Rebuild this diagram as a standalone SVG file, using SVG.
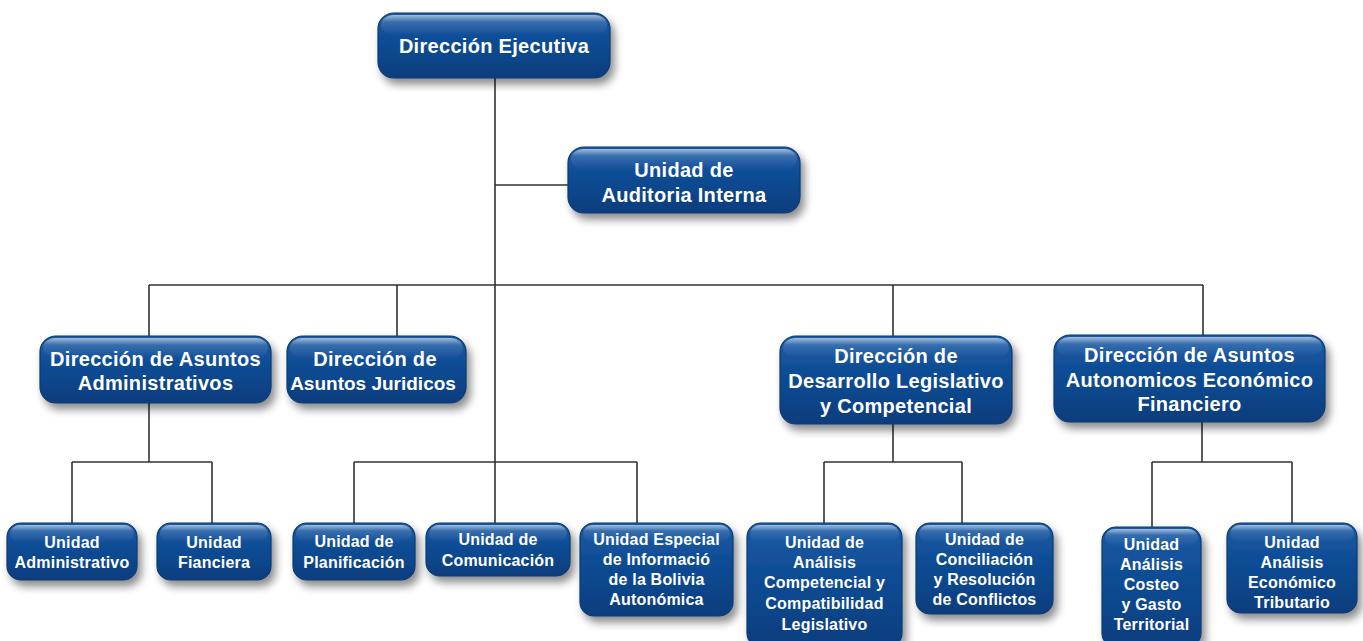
<svg xmlns="http://www.w3.org/2000/svg" width="1363" height="641" viewBox="0 0 1363 641">
<defs>
<linearGradient id="body" x1="0" y1="0" x2="0" y2="1">
<stop offset="0" stop-color="#1a5aa5"/>
<stop offset="0.5" stop-color="#0d4a92"/>
<stop offset="1" stop-color="#093d7d"/>
</linearGradient>
<linearGradient id="gloss" x1="0" y1="0" x2="0" y2="1">
<stop offset="0" stop-color="#ffffff" stop-opacity="0.6"/>
<stop offset="0.35" stop-color="#ffffff" stop-opacity="0.14"/>
<stop offset="1" stop-color="#ffffff" stop-opacity="0"/>
</linearGradient>
<filter id="sh" x="-20%" y="-20%" width="150%" height="160%">
<feDropShadow dx="4" dy="6" stdDeviation="4.5" flood-color="#000" flood-opacity="0.45"/>
</filter>
<style>
.box{fill:url(#body);stroke:#0a3a73;stroke-width:1.2;filter:url(#sh)}
.gl{fill:url(#gloss);stroke:none}
.t{font-family:"Liberation Sans",Arial,sans-serif;font-weight:bold;fill:#fff;text-anchor:middle}
.big{font-size:20px;letter-spacing:0.3px}
.sm{font-size:16px;letter-spacing:0.2px}
.c{fill:none;stroke:#333;stroke-width:1.6}
</style>
</defs>
<rect width="1363" height="641" fill="#fff"/>
<g id="connectors">
<path class="c" d="M495 78V462M495 185H568M149 285H1203M149 285V336M397 285V336M893 285V336M1203 285V335"/>
<path class="c" d="M149 403V462M72 462H212M72 462V523M212 462V523"/>
<path class="c" d="M354 462H637M354 462V523M495 462V523M637 462V523"/>
<path class="c" d="M893 424V462M824 462H962M824 462V523M962 462V523"/>
<path class="c" d="M1202 422V462M1152 462H1292M1152 462V527M1292 462V523"/>
</g>
<g id="n-ejecutiva">
<rect class="box" x="378" y="13" width="232" height="65" rx="16"/>
<rect class="gl" x="381" y="15" width="226" height="20" rx="12"/>
<text class="t big" x="494" y="53">Dirección Ejecutiva</text>
</g>
<g id="n-auditoria">
<rect class="box" x="568" y="147" width="232" height="66" rx="16"/>
<rect class="gl" x="571" y="149" width="226" height="20" rx="12"/>
<text class="t big" x="684" y="177">Unidad de</text>
<text class="t big" x="684" y="202">Auditoria Interna</text>
</g>
<g id="n-administrativos">
<rect class="box" x="40" y="336" width="231" height="67" rx="16"/>
<rect class="gl" x="43" y="338" width="225" height="20" rx="12"/>
<text class="t big" x="155.5" y="366">Dirección de Asuntos</text>
<text class="t big" x="155.5" y="390">Administrativos</text>
</g>
<g id="n-juridicos">
<rect class="box" x="287" y="336" width="179" height="67" rx="16"/>
<rect class="gl" x="290" y="338" width="173" height="20" rx="12"/>
<text class="t big" x="375" y="366">Dirección de</text>
<text class="t big" x="373" y="390" style="font-size:19px;letter-spacing:0">Asuntos Juridicos</text>
</g>
<g id="n-desarrollo">
<rect class="box" x="780" y="336" width="232" height="88" rx="16"/>
<rect class="gl" x="783" y="338" width="226" height="20" rx="12"/>
<text class="t big" x="896" y="363">Dirección de</text>
<text class="t big" x="896" y="388">Desarrollo Legislativo</text>
<text class="t big" x="896" y="413">y Competencial</text>
</g>
<g id="n-autonomicos">
<rect class="box" x="1054" y="335" width="271" height="87" rx="16"/>
<rect class="gl" x="1057" y="337" width="265" height="20" rx="12"/>
<text class="t big" x="1189.5" y="362">Dirección de Asuntos</text>
<text class="t big" x="1189.5" y="387">Autonomicos Económico</text>
<text class="t big" x="1189.5" y="411">Financiero</text>
</g>
<g id="n-u-administrativo">
<rect class="box" x="7" y="523" width="130" height="57" rx="14"/>
<rect class="gl" x="10" y="525" width="124" height="17" rx="10"/>
<text class="t sm" x="72" y="548">Unidad</text>
<text class="t sm" x="72" y="568">Administrativo</text>
</g>
<g id="n-u-fianciera">
<rect class="box" x="157" y="523" width="114" height="57" rx="14"/>
<rect class="gl" x="160" y="525" width="108" height="17" rx="10"/>
<text class="t sm" x="214" y="548">Unidad</text>
<text class="t sm" x="214" y="568">Fianciera</text>
</g>
<g id="n-u-planificacion">
<rect class="box" x="293" y="523" width="122" height="57" rx="14"/>
<rect class="gl" x="296" y="525" width="116" height="17" rx="10"/>
<text class="t sm" x="354" y="547">Unidad de</text>
<text class="t sm" x="354" y="568">Planificación</text>
</g>
<g id="n-u-comunicacion">
<rect class="box" x="426" y="523" width="144" height="53" rx="14"/>
<rect class="gl" x="429" y="525" width="138" height="17" rx="10"/>
<text class="t sm" x="498" y="545">Unidad de</text>
<text class="t sm" x="498" y="566">Comunicación</text>
</g>
<g id="n-u-especial">
<rect class="box" x="580" y="523" width="153" height="93" rx="14"/>
<rect class="gl" x="583" y="525" width="147" height="17" rx="10"/>
<text class="t sm" x="656.5" y="545">Unidad Especial</text>
<text class="t sm" x="656.5" y="565">de Informació</text>
<text class="t sm" x="656.5" y="585">de la Bolivia</text>
<text class="t sm" x="656.5" y="605">Autonómica</text>
</g>
<g id="n-u-analisis-competencial">
<rect class="box" x="747" y="523" width="155" height="124" rx="14"/>
<rect class="gl" x="750" y="525" width="149" height="17" rx="10"/>
<text class="t sm" x="824.5" y="548">Unidad de</text>
<text class="t sm" x="824.5" y="568">Análisis</text>
<text class="t sm" x="824.5" y="588">Competencial y</text>
<text class="t sm" x="824.5" y="609">Compatibilidad</text>
<text class="t sm" x="824.5" y="630">Legislativo</text>
</g>
<g id="n-u-conciliacion">
<rect class="box" x="916" y="523" width="137" height="91" rx="14"/>
<rect class="gl" x="919" y="525" width="131" height="17" rx="10"/>
<text class="t sm" x="984.5" y="545">Unidad de</text>
<text class="t sm" x="984.5" y="565">Conciliación</text>
<text class="t sm" x="984.5" y="585">y Resolución</text>
<text class="t sm" x="984.5" y="605">de Conflictos</text>
</g>
<g id="n-u-costeo">
<rect class="box" x="1102" y="527" width="99" height="120" rx="14"/>
<rect class="gl" x="1105" y="529" width="93" height="17" rx="10"/>
<text class="t sm" x="1151.5" y="550">Unidad</text>
<text class="t sm" x="1151.5" y="570">Análisis</text>
<text class="t sm" x="1151.5" y="590">Costeo</text>
<text class="t sm" x="1151.5" y="610">y Gasto</text>
<text class="t sm" x="1151.5" y="630">Territorial</text>
</g>
<g id="n-u-economico">
<rect class="box" x="1227" y="523" width="130" height="90" rx="14"/>
<rect class="gl" x="1230" y="525" width="124" height="17" rx="10"/>
<text class="t sm" x="1292" y="548">Unidad</text>
<text class="t sm" x="1292" y="568">Análisis</text>
<text class="t sm" x="1292" y="588">Económico</text>
<text class="t sm" x="1292" y="608">Tributario</text>
</g>
</svg>
